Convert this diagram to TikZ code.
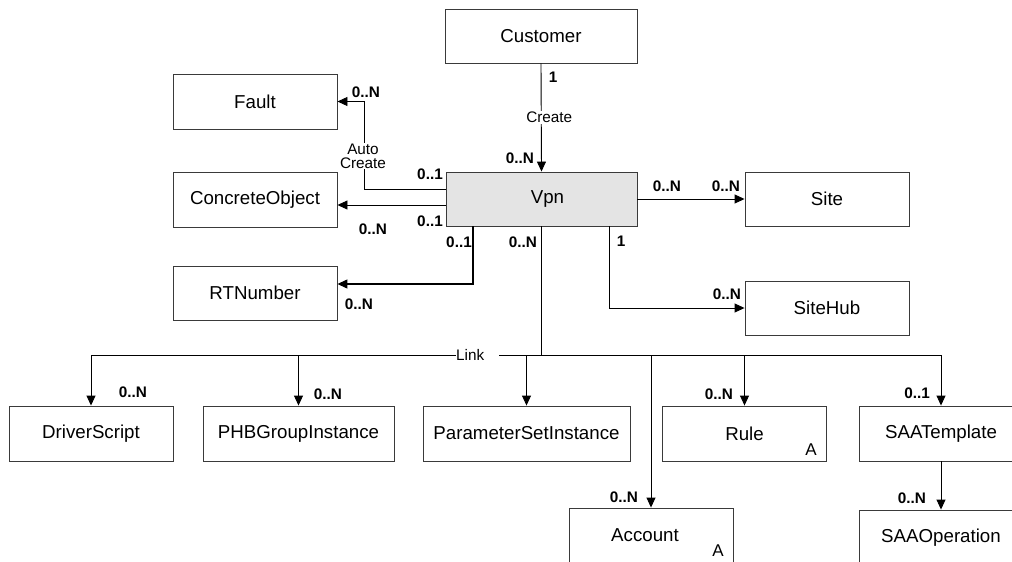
\documentclass[tikz,border=0pt]{standalone}
\usepackage{fontspec}
\setmainfont{Liberation Sans}
\usetikzlibrary{arrows.meta}
\definecolor{boxline}{HTML}{3A3A3A}
\definecolor{vpnfill}{HTML}{E4E4E4}
\tikzset{
  entity/.style={draw=boxline, line width=0.9pt, fill=white, minimum width=164pt,
    minimum height=55pt, inner sep=0pt, font=\fontsize{18.7}{21}\selectfont},
  conn/.style={draw=black, line width=0.9pt},
  arr/.style={conn, -{Triangle[length=10pt,width=9pt]}},
  mult/.style={font=\fontsize{15.3}{17}\selectfont\bfseries, inner sep=0pt},
  role/.style={font=\fontsize{15.3}{17}\selectfont, inner sep=1pt, fill=white, align=center},
  absmark/.style={font=\fontsize{17}{19}\selectfont, inner sep=0pt}
}
\begin{document}
\begin{tikzpicture}[x=1pt, y=-1pt]
\useasboundingbox (0,0) rectangle (1012,562);
\clip (0,0) rectangle (1012,562);
\fill[white] (0,0) rectangle (1012,562);

% entities
\node[entity, minimum width=192pt, minimum height=54pt] (cust) at (541,36) {Customer};
\node[entity, minimum width=191pt, minimum height=54pt, fill=vpnfill] (vpn) at (541.5,199) {\hspace{12pt}Vpn};
\node[entity] (fault) at (255,101.5) {Fault};
\node[entity] (concrete) at (255,199.5) {ConcreteObject};
\node[entity, minimum height=54pt] (rt) at (255,293) {RTNumber};
\node[entity, minimum height=54pt] (site) at (827,199) {Site};
\node[entity, minimum height=54pt] (sitehub) at (827,308) {SiteHub};
\node[entity] (driver) at (91,433.5) {DriverScript};
\node[entity, minimum width=191pt] (phb) at (298.5,433.5) {PHBGroupInstance};
\node[entity, minimum width=207pt] (param) at (526.5,433.5) {ParameterSetInstance};
\node[entity] (rule) at (744.5,433.5) {Rule};
\node[entity] (saat) at (941,433.5) {SAATemplate};
\node[entity] (account) at (651,535.5) {\hspace{-12pt}Account};
\node[entity] (saaop) at (941,537.5) {SAAOperation};
\node[absmark] (ruleA) at (811,450) {A};
\node[absmark] (accA) at (718,551) {A};

% Customer creates Vpn
\draw[arr] (cust.south) -- (vpn.north)
  node[role, pos=0.5, xshift=8pt] (lcreate) {Create};

% Vpn auto-creates Fault
\draw[arr] ([yshift=10pt]vpn.west) -| ([xshift=27pt]fault.east) -- (fault.east);
\node[role, inner sep=0.5pt] (lauto) at (363,156) {Auto\\[-3pt]Create};

% Vpn to ConcreteObject
\draw[arr] ([yshift=-6pt]vpn.west) -- ([yshift=-5.5pt]concrete.east);

% Vpn to RTNumber
\draw[arr, line width=1.3pt] ([xshift=-68.5pt]vpn.south) |- ([yshift=9pt]rt.east);

% Vpn to Site and SiteHub
\draw[arr] (vpn.east) -- (site.west);
\draw[arr] ([xshift=67.5pt]vpn.south) |- (sitehub.west);

% Link bus
\coordinate (bus) at (541.5,355);
\draw[conn] (vpn.south) -- (bus);
\draw[conn] (driver.north |- bus) -- (saat.north |- bus);
\node[role, anchor=west, inner sep=0pt, text width=43pt, align=left, minimum height=14pt] (llink) at (456,355) {Link};
\draw[arr] (driver.north |- bus) -- (driver.north);
\draw[arr] (phb.north |- bus) -- (phb.north);
\draw[arr] (param.north |- bus) -- (param.north);
\draw[arr] (account.north |- bus) -- (account.north);
\draw[arr] (rule.north |- bus) -- (rule.north);
\draw[arr] (saat.north |- bus) -- (saat.north);
\draw[arr] (saat.south) -- (saaop.north);

% multiplicities
\node[mult] (m1) at (553,77) {1};
\node[mult] (m2) at (520,158) {0..N};
\node[mult] (m3) at (366,92) {0..N};
\node[mult] (m4) at (430,174) {0..1};
\node[mult] (m5) at (430,221) {0..1};
\node[mult] (m6) at (373,229) {0..N};
\node[mult] (m7) at (459,242) {0..1};
\node[mult] (m8) at (523,242) {0..N};
\node[mult] (m9) at (359,304) {0..N};
\node[mult] (m10) at (667,186) {0..N};
\node[mult] (m11) at (726,186) {0..N};
\node[mult] (m12) at (621,241) {1};
\node[mult] (m13) at (727,294) {0..N};
\node[mult] (m14) at (133,392) {0..N};
\node[mult] (m15) at (328,394) {0..N};
\node[mult] (m16) at (719,394) {0..N};
\node[mult] (m17) at (917,393) {0..1};
\node[mult] (m18) at (624,497) {0..N};
\node[mult] (m19) at (912,498) {0..N};
\end{tikzpicture}
\end{document}
